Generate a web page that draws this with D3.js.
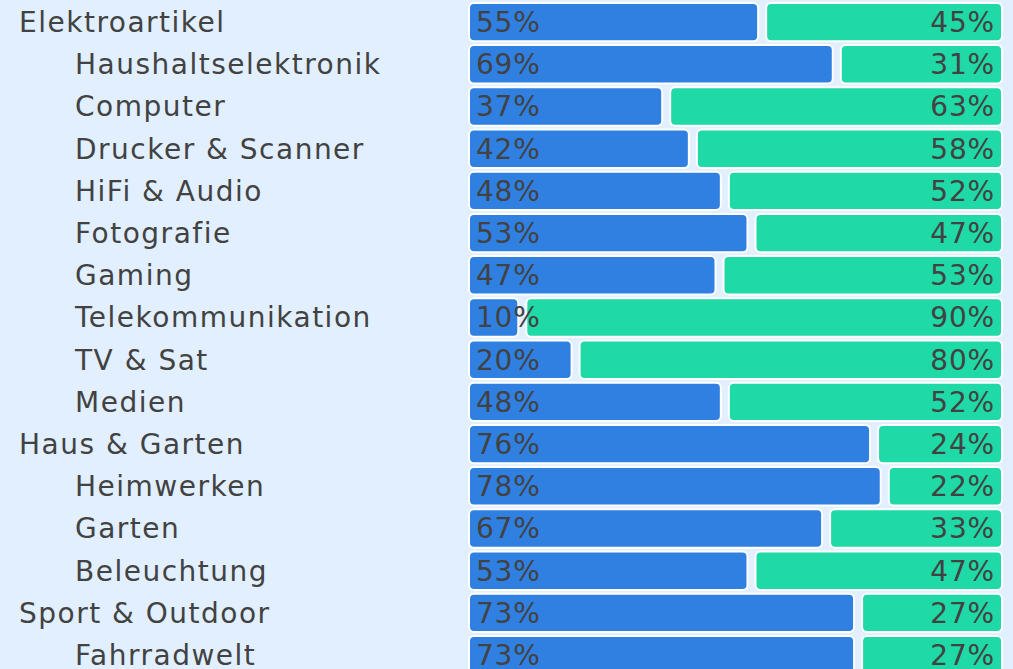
<!DOCTYPE html>
<html>
<head>
<meta charset="utf-8">
<script src="https://cdn.jsdelivr.net/npm/d3@7"></script>
<style>
  body { margin: 0; background: #e1efff; overflow: hidden; }
  svg { display: block; font-family: "DejaVu Sans", sans-serif; }
</style>
</head>
<body>
<div id="chart"></div>
<script>
// category labels (level 0 = main group, 1 = sub category)
const categories = [
  'Elektroartikel', 'Haushaltselektronik', 'Computer', 'Drucker & Scanner',
  'HiFi & Audio', 'Fotografie', 'Gaming', 'Telekommunikation', 'TV & Sat',
  'Medien', 'Haus & Garten', 'Heimwerken', 'Garten', 'Beleuchtung',
  'Sport & Outdoor', 'Fahrradwelt'
];
const levels = [0, 1, 1, 1, 1, 1, 1, 1, 1, 1, 0, 1, 1, 1, 0, 1];
// share of the blue series in percent, green is the rest
const blueShare = [55, 69, 37, 42, 48, 53, 47, 10, 20, 48, 76, 78, 67, 53, 73, 73];
const greenShare = blueShare.map(d => 100 - d);

const width = 1013, height = 669;
const colors = { blue: '#3080e2', green: '#1fd9a6', text: '#424242' };

const data = categories.map((c, i) => ({
  name: c, level: levels[i], blue: blueShare[i], green: greenShare[i]
}));

const svg = d3.select('#chart').append('svg')
  .attr('width', width)
  .attr('height', height);

const x = d3.scaleLinear().domain([0, 100]).range([469, 1002]);
const y = d3.scaleBand()
  .domain(d3.range(data.length))
  .range([1, 1 + 42.2 * data.length])
  .paddingInner(0.09)
  .paddingOuter(0.045);

const gap = 4;
const fontSize = 28;

const row = svg.selectAll('.row')
  .data(data)
  .join('g')
  .attr('class', 'row')
  .attr('transform', (d, i) => `translate(0,${y(i)})`);

// labels on the left
row.append('text')
  .attr('x', d => d.level === 0 ? 19 : 75)
  .attr('y', y.bandwidth() / 2 + 10)
  .attr('fill', colors.text)
  .attr('font-size', fontSize)
  .attr('letter-spacing', 1.5)
  .text(d => d.name);

// blue part
row.append('rect')
  .attr('x', x(0))
  .attr('y', 0)
  .attr('width', d => Math.max(0, x(d.blue) - x(0) - gap))
  .attr('height', y.bandwidth())
  .attr('rx', 5)
  .attr('fill', colors.blue)
  .attr('stroke', '#ffffff')
  .attr('stroke-width', 2);

// green part
row.append('rect')
  .attr('x', d => x(d.blue) + gap)
  .attr('y', 0)
  .attr('width', d => Math.max(0, x(100) - x(d.blue) - gap))
  .attr('height', y.bandwidth())
  .attr('rx', 5)
  .attr('fill', colors.green)
  .attr('stroke', '#ffffff')
  .attr('stroke-width', 2);

// percentage values
row.append('text')
  .attr('x', x(0) + 7)
  .attr('y', y.bandwidth() / 2 + 10)
  .attr('fill', colors.text)
  .attr('font-size', fontSize)
  .attr('letter-spacing', 0.8)
  .text(d => d.blue + '%');

row.append('text')
  .attr('x', x(100) - 7)
  .attr('y', y.bandwidth() / 2 + 10)
  .attr('text-anchor', 'end')
  .attr('fill', colors.text)
  .attr('font-size', fontSize)
  .attr('letter-spacing', 0.8)
  .text(d => d.green + '%');
</script>
</body>
</html>
